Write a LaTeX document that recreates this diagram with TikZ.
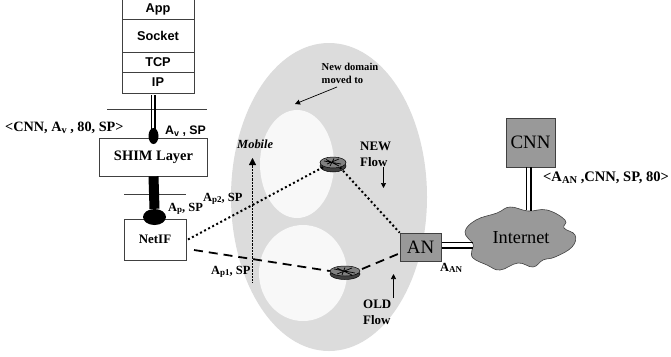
\documentclass[tikz,border=0pt]{standalone}
\usepackage{fontspec}
\setmainfont{Liberation Serif}
\setsansfont{Liberation Sans}
\usetikzlibrary{shapes.geometric,arrows.meta}
\definecolor{domaingray}{HTML}{DCDCDC}
\definecolor{spot}{HTML}{F8F8F8}
\definecolor{boxgray}{HTML}{999999}
\definecolor{linegray}{HTML}{404040}
\newcommand{\lowsub}[1]{\raisebox{-.28ex}{\fontsize{.72em}{1em}\selectfont #1}}
\tikzset{
  stackbox/.style={draw=linegray,line width=.7pt,minimum width=72bp,inner sep=0,font=\sffamily\bfseries\fontsize{12.8}{14}\selectfont},
  plainbox/.style={draw=linegray,line width=.7pt,fill=white,inner sep=0,font=\bfseries\fontsize{14.5}{16}\selectfont},
  graybox/.style={draw=linegray,line width=.7pt,fill=boxgray,inner sep=0,font=\fontsize{19}{21}\selectfont},
  lab/.style={inner sep=0,font=\bfseries\fontsize{12.5}{14}\selectfont},
  blob/.style={ellipse,fill=black,inner sep=0},
  routertop/.style={ellipse,draw=black,fill=gray,inner sep=0,line width=.5pt},
  sans/.style={inner sep=0,font=\sffamily\bfseries\fontsize{12.4}{14}\selectfont},
  flowdot/.style={line width=2pt,dash pattern=on 2pt off 2.6pt},
  flowdash/.style={line width=1.8pt,dash pattern=on 9pt off 6pt},
  tip/.style={-{Triangle[length=5bp,width=5bp]},line width=.7pt}
}
\begin{document}
\begin{tikzpicture}[x=1bp,y=-1bp]
\useasboundingbox (0,0) rectangle (671,356);
% domain
\node[ellipse,fill=domaingray,minimum width=196bp,minimum height=308bp,inner sep=0] (dom) at (329,197) {};
\node[ellipse,fill=spot,minimum width=74bp,minimum height=108bp,inner sep=0] (upper) at (297,164) {};
\node[ellipse,fill=spot,minimum width=88bp,minimum height=96bp,inner sep=0] (lower) at (303,273) {};
% stack
\node[stackbox,minimum height=20bp] (app) at (158,9.5) {App};
\node[stackbox,minimum height=33bp] (sock) at (158,36) {Socket};
\node[stackbox,minimum height=20bp] (tcp) at (158,62) {TCP};
\node[stackbox,minimum height=21bp] (ip) at (158,82.5) {IP};
% shim and netif
\node[plainbox,minimum width=108bp,minimum height=38bp] (shim) at (153.5,157) {SHIM Layer};
\node[plainbox,minimum width=62bp,minimum height=41bp,font=\bfseries\fontsize{13}{15}\selectfont] (netif) at (155,239.5) {NetIF};
\coordinate (a1) at (107,109.5); \coordinate (a2) at (207,109.5);
\coordinate (b1) at (124,194); \coordinate (b2) at (186,194);
\draw[linegray,line width=.7pt] (a1) -- (a2);
\draw[linegray,line width=.7pt] (b1) -- (b2);
\node[blob,minimum width=10bp,minimum height=16bp] (bv) at (153.5,136) {};
\node[blob,minimum width=23bp,minimum height=16bp] (bp) at (154.5,217) {};
\coordinate (ipb) at (151.5,95); \coordinate (ipc) at (155,95);
\coordinate (bva) at (151.5,130); \coordinate (bvc) at (155,130);
\draw[line width=.7pt] (ipb) -- (bva);
\draw[line width=1.4pt] (ipc) -- (bvc);
\draw[line width=10bp] (shim.south) -- (bp.north);
% routers
\node[routertop,fill=linegray,minimum width=26bp,minimum height=12bp] (r1b) at (333,166) {};
\node[routertop,fill=gray,minimum width=26bp,minimum height=11bp] (r1) at (333,162.5) {};
\node[routertop,fill=linegray,minimum width=30bp,minimum height=11bp] (r2b) at (345,274) {};
\node[routertop,fill=gray,minimum width=30bp,minimum height=10bp] (r2) at (345,271) {};
\draw[black,line width=.7pt] (324,161)--(341,164) (327,164)--(339,159) (334,158.5)--(330,166) (326,159.5)--(339,166);
\draw[black,line width=.7pt] (334,269)--(355,273) (337,274)--(352,268) (345,267.5)--(342,275) (337,268)--(352,275);
% gray boxes
\node[graybox,minimum width=41bp,minimum height=28bp] (an) at (420.5,247) {AN};
\node[graybox,minimum width=49bp,minimum height=49bp] (cnn) at (530.5,142.5) {CNN};
% cloud
\draw[linegray,fill=boxgray,line width=.6pt]
 plot[smooth cycle,tension=.7] coordinates {(473,244)(465,232)(476,220)(497,213)(510,207)(528,211)(547,210)(565,220)(564,228)(575,235)(572,247)(555,257)(543,260)(533,267)(518,263)(500,270)(487,265)(473,258)(472,250)};
\node[inner sep=0,font=\fontsize{18.4}{21}\selectfont] (inet) at (521,238) {Internet};
% double links
\coordinate (cs1) at (526,167); \coordinate (cs2) at (531,167);
\coordinate (ce1) at (526,210); \coordinate (ce2) at (531,211);
\draw[line width=.7pt] (cs1) -- (ce1);
\draw[line width=1.6pt] (cs2) -- (ce2);
\coordinate (as1) at (441.5,242.5); \coordinate (as2) at (441.5,248);
\coordinate (ae1) at (473,242.5); \coordinate (ae2) at (473,248);
\draw[line width=.7pt] (as1) -- (ae1);
\draw[line width=1.6pt] (as2) -- (ae2);
% flows
\coordinate (nd) at (188,239.5); \coordinate (nl) at (194,250);
\draw[flowdot] (nd) -- (r1.205);
\draw[flowdot] (r1.-35) -- (an.north west);
\draw[flowdash] (nl) -- (r2.west);
\coordinate (rr) at (362,269); \coordinate (ar) at (398,254);
\draw[flowdash] (rr) -- (ar);
% mobile arrow
\coordinate (m0) at (252.5,282); \coordinate (m1) at (252.5,158);
\draw[line width=.45pt,densely dotted,-{Triangle[length=7bp,width=7bp]}] (m0) -- (m1);
% annotations arrows
\coordinate (nda) at (337,87); \coordinate (ndb) at (295,104);
\draw[tip] (nda) -- (ndb);
\coordinate (nfa) at (383.5,167); \coordinate (nfb) at (383.5,188);
\draw[tip] (nfa) -- (nfb);
\coordinate (ofa) at (393.5,298); \coordinate (ofb) at (393.5,274);
\draw[tip] (ofa) -- (ofb);
% labels
\node[lab,anchor=west,font=\bfseries\fontsize{14.3}{16}\selectfont] (l1) at (5,128) {<CNN, A\lowsub{v} , 80, SP>};
\node[sans,anchor=west] (l2) at (165,131) {A\lowsub{v} , SP};
\node[lab,anchor=west] (l3) at (168,209) {A\lowsub{p}, SP};
\node[lab,anchor=west] (l4) at (203,199) {A\lowsub{p2}, SP};
\node[lab,anchor=west] (l5) at (211,272) {A\lowsub{p1}, SP};
\node[lab,anchor=north west,align=left,font=\bfseries\fontsize{10.6}{13}\selectfont] (l6) at (321.5,63) {New domain\\moved to};
\node[lab,anchor=west,font=\bfseries\itshape\fontsize{12.5}{14}\selectfont] (l7) at (237,144) {Mobile};
\node[lab,anchor=north west,align=left,font=\bfseries\fontsize{13}{16}\selectfont] (l8) at (360,142) {NEW\\Flow};
\node[lab,anchor=north west,align=left,font=\bfseries\fontsize{13}{16}\selectfont] (l9) at (363,300) {OLD\\Flow};
\node[lab,anchor=west] (l10) at (440,268) {A\lowsub{AN}};
\node[lab,anchor=west,font=\bfseries\fontsize{14.6}{16}\selectfont] (l11) at (543,178) {<A\lowsub{AN} ,CNN, SP, 80>};
\end{tikzpicture}
\end{document}
